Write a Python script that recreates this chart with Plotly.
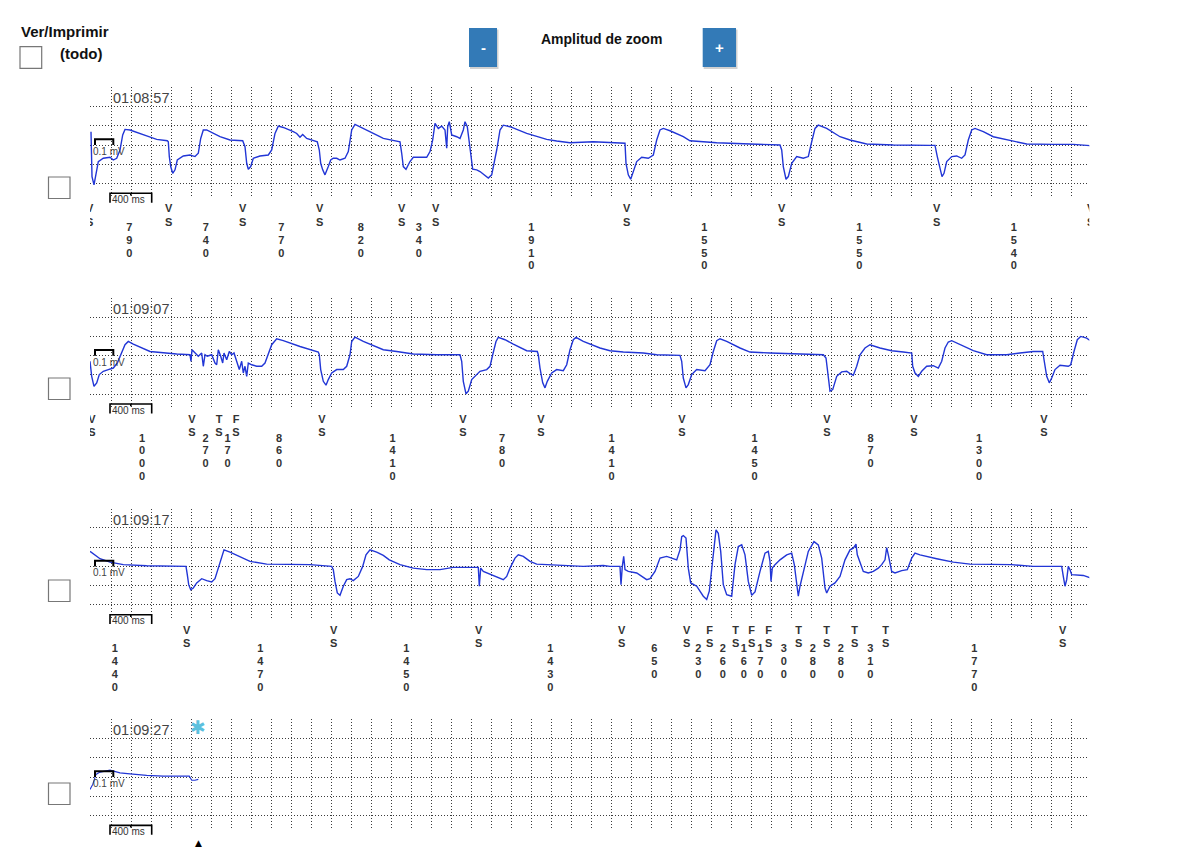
import plotly.graph_objects as go

# ---------------- data ----------------
strip_times = ["01:08:57", "01:09:07", "01:09:17", "01:09:27"]

# ECG samples per strip: (time in ms from strip start, amplitude in grid divisions)
strip1_samples = [
    (-7, 0.69), (3, -1.64), (23, -2.07), (43, -1.47), (66, -0.86), (116, -0.69), (183, -0.64), (216, -0.78),
    (250, -0.69), (283, -0.26), (310, 0.52), (333, 0.81), (383, 0.78), (550, 0.47), (650, 0.29), (756, 0.22),
    (766, 0.17), (776, -0.60), (790, -1.12), (810, -1.47), (833, -1.29), (856, -0.78), (916, -0.57), (983, -0.52),
    (1033, -0.60), (1066, -0.43), (1090, 0.34), (1116, 0.78), (1150, 0.78), (1283, 0.43), (1383, 0.26), (1510, 0.22),
    (1533, -0.09), (1550, -0.95), (1566, -1.26), (1590, -1.12), (1616, -0.69), (1683, -0.57), (1766, -0.52), (1800, -0.26),
    (1833, 0.60), (1866, 0.98), (1916, 0.91), (2016, 0.69), (2050, 0.60), (2083, 0.40), (2110, 0.55), (2150, 0.34),
    (2216, 0.22), (2256, 0.17), (2276, -0.26), (2290, -0.95), (2310, -1.29), (2333, -1.55), (2366, -1.12), (2390, -0.78),
    (2416, -0.69), (2450, -0.69), (2483, -0.78), (2533, -0.69), (2566, -0.34), (2600, 0.78), (2633, 1.07), (2683, 0.95),
    (2816, 0.60), (2916, 0.34), (3050, 0.22), (3083, 0.17), (3100, -0.43), (3116, -1.12), (3143, -1.26), (3183, -0.86),
    (3216, -0.64), (3350, -0.64), (3383, -0.34), (3410, 0.26), (3433, 1.12), (3466, 0.86), (3500, 0.98), (3533, 0.78),
    (3550, -0.17), (3560, 0.95), (3576, 1.21), (3600, 0.52), (3650, 0.43), (3683, 0.34), (3716, 0.78), (3733, 1.21),
    (3756, 0.95), (3783, -0.09), (3810, -1.26), (3850, -1.29), (3883, -1.38), (3966, -1.72), (4000, -1.55), (4050, -0.26),
    (4083, 0.78), (4116, 1.03), (4183, 0.95), (4350, 0.60), (4550, 0.29), (4650, 0.21), (4783, 0.12), (5016, 0.17),
    (5250, 0.12), (5333, 0.09), (5343, -0.95), (5366, -1.55), (5390, -1.78), (5410, -1.47), (5450, -0.86), (5500, -0.64),
    (5566, -0.69), (5616, -0.52), (5650, 0.26), (5683, 0.78), (5716, 0.86), (5783, 0.74), (5916, 0.43), (5983, 0.22),
    (6250, 0.12), (6583, 0.05), (6883, 0.0), (6900, -0.26), (6916, -1.12), (6943, -1.78), (6966, -1.64), (7000, -0.95),
    (7050, -0.60), (7116, -0.69), (7166, -0.60), (7200, 0.17), (7233, 0.86), (7266, 1.03), (7350, 0.86), (7483, 0.43),
    (7583, 0.26), (7750, 0.05), (8016, 0.0), (8383, -0.02), (8433, -0.02), (8456, -0.60), (8483, -1.29), (8503, -1.64),
    (8523, -1.47), (8550, -0.86), (8600, -0.60), (8650, -0.57), (8700, -0.69), (8733, -0.52), (8766, 0.26), (8800, 0.78),
    (8833, 0.86), (8916, 0.69), (9016, 0.43), (9216, 0.21), (9350, 0.05), (9616, 0.03), (9816, 0.03), (9983, -0.03),
    (9990, -0.09),
]

strip2_samples = [
    (-17, -0.29), (0, -1.07), (23, -1.59), (50, -1.41), (76, -0.98), (116, -0.81), (166, -0.72), (216, -0.64),
    (256, -0.38), (300, 0.14), (333, 0.57), (366, 0.74), (416, 0.60), (583, 0.22), (716, 0.14), (850, 0.09),
    (983, 0.05), (993, -0.29), (1003, 0.31), (1033, 0.14), (1066, -0.03), (1100, 0.14), (1116, -0.55), (1133, 0.05),
    (1156, -0.03), (1200, 0.05), (1233, -0.38), (1250, -0.47), (1266, 0.31), (1290, -0.03), (1310, -0.38), (1323, 0.14),
    (1350, -0.21), (1376, 0.22), (1400, 0.05), (1423, 0.14), (1443, -0.21), (1456, -0.38), (1476, -0.72), (1500, -0.29),
    (1516, -0.90), (1533, -0.55), (1550, -1.07), (1566, -0.38), (1600, -0.47), (1650, -0.55), (1700, -0.55), (1733, -0.38),
    (1766, 0.05), (1800, 0.57), (1850, 0.88), (1916, 0.78), (2083, 0.48), (2266, 0.19), (2276, 0.05), (2290, -0.72),
    (2316, -1.33), (2343, -1.53), (2366, -1.24), (2400, -0.90), (2450, -0.72), (2516, -0.72), (2550, -0.55), (2583, 0.05),
    (2600, 0.74), (2633, 0.97), (2716, 0.74), (2916, 0.31), (3050, 0.22), (3216, 0.09), (3450, 0.05), (3683, 0.05),
    (3700, -0.29), (3716, -1.33), (3743, -1.98), (3766, -1.84), (3800, -1.24), (3850, -0.98), (3883, -0.81), (3950, -0.72),
    (3983, -0.55), (4010, 0.05), (4043, 0.74), (4066, 0.95), (4133, 0.83), (4216, 0.60), (4350, 0.26), (4456, 0.22),
    (4466, 0.05), (4483, -0.64), (4510, -1.41), (4533, -1.67), (4556, -1.33), (4600, -0.90), (4650, -0.72), (4716, -0.78),
    (4750, -0.47), (4783, 0.31), (4816, 0.83), (4843, 0.95), (4916, 0.74), (5083, 0.40), (5183, 0.26), (5316, 0.19),
    (5516, 0.14), (5650, 0.05), (5883, 0.02), (5900, -0.29), (5916, -1.16), (5943, -1.67), (5966, -1.50), (6000, -0.98),
    (6050, -0.72), (6133, -0.78), (6183, -0.47), (6216, 0.22), (6250, 0.78), (6283, 0.88), (6350, 0.74), (6483, 0.40),
    (6583, 0.19), (6783, 0.14), (7016, 0.09), (7316, 0.05), (7343, -0.12), (7360, -0.98), (7383, -1.84), (7410, -1.76),
    (7450, -1.07), (7500, -0.84), (7550, -0.81), (7583, -0.93), (7616, -1.02), (7650, -0.55), (7683, 0.05), (7733, 0.40),
    (7783, 0.57), (7883, 0.40), (8000, 0.26), (8116, 0.19), (8200, 0.14), (8210, -0.55), (8233, -0.90), (8266, -1.07),
    (8300, -0.81), (8350, -0.55), (8416, -0.52), (8466, -0.64), (8500, -0.29), (8533, 0.40), (8566, 0.71), (8600, 0.78),
    (8683, 0.57), (8816, 0.26), (8950, 0.05), (9150, 0.05), (9283, 0.14), (9416, 0.22), (9510, 0.22), (9523, -0.29),
    (9550, -1.07), (9576, -1.41), (9600, -1.16), (9633, -0.72), (9683, -0.50), (9766, -0.55), (9790, -0.47), (9823, 0.22),
    (9856, 0.83), (9890, 1.00), (9950, 0.91), (9983, 0.79),
]

strip3_samples = [
    (-17, 0.78), (83, 0.40), (183, 0.22), (316, 0.09), (550, 0.03), (783, 0.0), (943, 0.0), (956, -0.43),
    (970, -0.95), (990, -1.21), (1016, -1.12), (1050, -0.86), (1100, -0.64), (1150, -0.74), (1200, -0.81), (1233, -0.64),
    (1266, -0.09), (1300, 0.60), (1323, 0.86), (1383, 0.74), (1483, 0.52), (1583, 0.26), (1750, 0.12), (1950, 0.12),
    (2183, 0.09), (2400, 0.0), (2416, -0.17), (2433, -0.78), (2456, -1.38), (2483, -1.50), (2516, -1.03), (2550, -0.69),
    (2583, -0.64), (2616, -0.74), (2666, -0.52), (2710, 0.0), (2743, 0.60), (2783, 0.86), (2850, 0.74), (2916, 0.57),
    (2976, 0.34), (3083, 0.09), (3216, -0.09), (3350, -0.17), (3483, -0.17), (3616, -0.05), (3866, -0.05), (3876, -1.03),
    (3890, -0.09), (3916, -0.26), (3950, -0.34), (4016, -0.47), (4083, -0.64), (4116, -0.69), (4150, -0.52), (4183, -0.09),
    (4233, 0.43), (4266, 0.60), (4316, 0.52), (4383, 0.26), (4450, 0.12), (4583, 0.09), (4750, 0.05), (4916, 0.0),
    (5116, 0.05), (5183, 0.0), (5283, 0.0), (5293, -0.95), (5306, 0.0), (5320, 0.52), (5333, -0.17), (5366, -0.26),
    (5450, -0.34), (5550, -0.69), (5583, -0.64), (5633, -0.26), (5683, 0.43), (5750, 0.52), (5850, 0.34), (5883, 0.86),
    (5900, 1.55), (5916, 1.60), (5943, 1.47), (5966, -0.09), (5990, -0.86), (6050, -1.03), (6116, -1.55), (6150, -1.72),
    (6176, -1.29), (6216, 0.60), (6243, 1.90), (6266, 1.72), (6290, 0.78), (6316, -0.95), (6350, -1.47), (6400, -1.55),
    (6433, 0.09), (6466, 1.03), (6500, 1.12), (6533, 0.60), (6566, -0.78), (6600, -1.50), (6633, -1.33), (6683, -0.26),
    (6733, 0.69), (6766, 0.78), (6783, 0.26), (6793, -0.78), (6806, -0.09), (6833, 0.09), (6883, 0.34), (6950, 0.60),
    (7000, 0.69), (7026, 0.09), (7066, -1.55), (7083, -1.03), (7116, -0.26), (7166, 0.78), (7223, 1.29), (7266, 1.12),
    (7300, 0.43), (7333, -1.12), (7350, -1.38), (7383, -1.03), (7433, -0.86), (7483, -0.52), (7533, 0.34), (7583, 0.86),
    (7616, 0.95), (7643, 1.16), (7656, 0.60), (7683, 0.17), (7716, -0.26), (7766, -0.34), (7816, -0.26), (7866, -0.09),
    (7900, 0.09), (7933, 0.34), (7950, 0.98), (7966, 0.60), (8000, -0.26), (8033, -0.34), (8100, -0.22), (8156, -0.17),
    (8200, 0.43), (8233, 0.69), (8283, 0.60), (8450, 0.40), (8616, 0.22), (8783, 0.12), (9016, 0.12), (9200, 0.09),
    (9416, 0.0), (9700, 0.0), (9716, -0.52), (9733, -1.03), (9750, -0.69), (9766, 0.0), (9783, -0.17), (9800, -0.43),
    (9916, -0.47), (9990, -0.60),
]

strip4_samples = [
    (-17, -0.64), (10, -0.38), (43, 0.14), (83, 0.26), (183, 0.36), (216, 0.31), (283, 0.22), (383, 0.17),
    (550, 0.09), (716, 0.05), (883, 0.05), (976, 0.05), (1000, -0.16), (1033, -0.16), (1066, -0.12),
]

# event markers (time of first event in ms, event codes, RR intervals in ms)
strip1_first = -20
strip1_events = ["VS", "VS", "VS", "VS", "VS", "VS", "VS", "VS", "VS", "VS"]
strip1_rr = [790, 740, 770, 820, 340, 1910, 1550, 1550, 1540]

strip2_first = 3
strip2_events = ["VS", "VS", "TS", "FS", "VS", "VS", "VS", "VS", "VS", "VS", "VS"]
strip2_rr = [1000, 270, 170, 860, 1410, 780, 1410, 1450, 870, 1300]

strip3_first = -490
strip3_events = ["VS", "VS", "VS", "VS", "VS", "VS", "FS", "TS", "FS", "FS", "TS", "TS", "TS", "TS", "VS"]
strip3_rr = [1440, 1470, 1450, 1430, 650, 230, 260, 160, 170, 300, 280, 280, 310, 1770]

grid_times = list(range(200, 10000, 200))
grid_levels = [-2, -1, 0, 1, 2]

# ---------------- layout constants ----------------
W, H = 1200, 853
BLUE = "#2236d6"
GRID_COLOR = "#3c3c3c"
FONT = "Liberation Sans, Arial, sans-serif"
STRIP_DY = 210.7
X_LEFT, X_RIGHT = 90.0, 1089.3
T_RANGE = [-17, 9976]
GRID_TOP, GRID_BOT, MID, CELL = 87.3, 198.3, 145.0, 19.25
LAB_TOP, LAB_BOT = 200.0, 290.0
CODE_Y, CODE_STEP = 4.0, 13.3
NUM_Y, NUM_STEP = 22.7, 12.8


def px(x):
    return x / W


def py(y):
    return 1 - y / H


def ax_name(kind, n):
    return kind + ("" if n == 1 else str(n))


fig = go.Figure()
layout = dict(
    width=W, height=H, margin=dict(l=0, r=0, t=0, b=0),
    paper_bgcolor="white", plot_bgcolor="rgba(0,0,0,0)", showlegend=False,
)
shapes = []
annotations = []

strips = [
    dict(samples=strip1_samples, first=strip1_first, events=strip1_events, rr=strip1_rr),
    dict(samples=strip2_samples, first=strip2_first, events=strip2_events, rr=strip2_rr),
    dict(samples=strip3_samples, first=strip3_first, events=strip3_events, rr=strip3_rr),
    dict(samples=strip4_samples, first=None, events=None, rr=None),
]

v_top = (MID - GRID_TOP) / CELL
v_bot = -(GRID_BOT - MID) / CELL
label_axis = 5

for i, s in enumerate(strips):
    dy = i * STRIP_DY
    n = i + 1
    xa, ya = ax_name("xaxis", n), ax_name("yaxis", n)
    layout[xa] = dict(
        domain=[px(X_LEFT), px(X_RIGHT)], range=T_RANGE, tickmode="array", tickvals=grid_times,
        showticklabels=False, ticks="", showgrid=True, gridcolor=GRID_COLOR, gridwidth=1,
        griddash="1px,2px", zeroline=False, showline=False, anchor=ax_name("y", n), fixedrange=True,
    )
    layout[ya] = dict(
        domain=[py(GRID_BOT + dy), py(GRID_TOP + dy)], range=[v_bot, v_top], tickmode="array",
        tickvals=grid_levels, showticklabels=False, ticks="", showgrid=True, gridcolor=GRID_COLOR,
        gridwidth=1, griddash="1px,2px", zeroline=False, showline=False, anchor=ax_name("x", n),
        fixedrange=True,
    )
    t = [p[0] for p in s["samples"]]
    v = [p[1] for p in s["samples"]]
    fig.add_trace(go.Scatter(
        x=t, y=v, mode="lines", line=dict(color=BLUE, width=1.4 if i < 3 else 1.1),
        xaxis=ax_name("x", n), yaxis=ax_name("y", n), hoverinfo="skip", cliponaxis=True,
    ))

    # calibration pulse 0.1 mV
    shapes.append(dict(
        type="path", xref=ax_name("x", n), yref=ax_name("y", n),
        path="M 33,0 L 33,0.3 L 216,0.3 L 216,0",
        line=dict(color="black", width=2),
    ))
    annotations.append(dict(
        x=px(108.5), y=py(151.5 + dy), xref="paper", yref="paper", text="0.1 mV", showarrow=False,
        font=dict(family=FONT, size=10, color="#444"), xanchor="center", yanchor="middle",
    ))
    # 400 ms scale bar
    shapes.append(dict(
        type="path", xref="paper", yref="paper",
        path=(f"M {px(110)},{py(202.7 + dy)} L {px(110)},{py(193.3 + dy)} "
              f"L {px(151.7)},{py(193.3 + dy)} L {px(151.7)},{py(202.7 + dy)} "
              f"M {px(130.8)},{py(193.3 + dy)} L {px(130.8)},{py(195.5 + dy)}"),
        line=dict(color="black", width=1.6),
    ))
    annotations.append(dict(
        x=px(128.5), y=py(199.5 + dy), xref="paper", yref="paper", text="400 ms", showarrow=False,
        font=dict(family=FONT, size=10, color="#333"), xanchor="center", yanchor="middle",
    ))
    # timestamp
    annotations.append(dict(
        x=px(141), y=py(98.3 + dy), xref="paper", yref="paper", text=strip_times[i], showarrow=False,
        font=dict(family=FONT, size=14.5, color="#444"), xanchor="center", yanchor="middle",
    ))

    # event labels + intervals (each character on its own row)
    if s["events"] is not None:
        m = label_axis
        label_axis += 1
        layout[ax_name("xaxis", m)] = dict(
            domain=[px(X_LEFT), px(X_RIGHT)], range=T_RANGE, visible=False, anchor=ax_name("y", m),
            fixedrange=True,
        )
        layout[ax_name("yaxis", m)] = dict(
            domain=[py(LAB_BOT + dy), py(LAB_TOP + dy)], range=[LAB_BOT - LAB_TOP, 0], visible=False,
            anchor=ax_name("x", m), fixedrange=True,
        )
        times = [s["first"]]
        for r in s["rr"]:
            times.append(times[-1] + r)
        mids = [(times[k] + times[k + 1]) / 2 for k in range(len(s["rr"]))]
        cx, cy, ct = [], [], []
        for tt, code in zip(times, s["events"]):
            for k, ch in enumerate(code):
                cx.append(tt)
                cy.append(CODE_Y + k * CODE_STEP)
                ct.append(ch)
        for tt, r in zip(mids, s["rr"]):
            for k, ch in enumerate(str(r)):
                cx.append(tt)
                cy.append(NUM_Y + k * NUM_STEP)
                ct.append(ch)
        fig.add_trace(go.Scatter(
            x=cx, y=cy, mode="text", text=ct, textposition="bottom center",
            textfont=dict(family=FONT, size=11, color="#333", weight="bold"),
            cliponaxis=True, hoverinfo="skip", xaxis=ax_name("x", m), yaxis=ax_name("y", m),
        ))

# strip checkboxes
for ytop in [177, 378, 580, 783]:
    shapes.append(dict(type="rect", xref="paper", yref="paper", x0=px(48.5), x1=px(70), y0=py(ytop + 21.5),
                       y1=py(ytop), line=dict(color="#777", width=1.2), fillcolor="white"))
# header checkbox
shapes.append(dict(type="rect", xref="paper", yref="paper", x0=px(20), x1=px(41.7), y0=py(68.3), y1=py(46.7),
                   line=dict(color="#777", width=1.2), fillcolor="white"))

# zoom buttons
for x0, x1, label in [(469, 497, "-"), (702.7, 736, "+")]:
    shapes.append(dict(type="rect", xref="paper", yref="paper", x0=px(x0 + 1), x1=px(x1 + 1.5),
                       y0=py(69), y1=py(29.5), line=dict(width=0), fillcolor="rgba(0,0,0,0.18)"))
    shapes.append(dict(type="rect", xref="paper", yref="paper", x0=px(x0), x1=px(x1), y0=py(67), y1=py(28),
                       line=dict(width=0), fillcolor="#337ab7"))
    annotations.append(dict(x=px((x0 + x1) / 2), y=py(47.5), xref="paper", yref="paper",
                            text=f"<b>{label}</b>", showarrow=False,
                            font=dict(family=FONT, size=15, color="white"),
                            xanchor="center", yanchor="middle"))

annotations += [
    dict(x=px(64.5), y=py(32), xref="paper", yref="paper", text="<b>Ver/Imprimir</b>", showarrow=False,
         font=dict(family=FONT, size=15, color="#111"), xanchor="center", yanchor="middle"),
    dict(x=px(80.5), y=py(53), xref="paper", yref="paper", text="<b>(todo)</b>", showarrow=False,
         font=dict(family=FONT, size=15, color="#111"), xanchor="center", yanchor="middle"),
    dict(x=px(601), y=py(39), xref="paper", yref="paper", text="<b>Amplitud de zoom</b>", showarrow=False,
         font=dict(family=FONT, size=14, color="#111"), xanchor="center", yanchor="middle"),
    dict(x=px(198), y=py(727), xref="paper", yref="paper", text="✱", showarrow=False,
         font=dict(family="DejaVu Sans", size=19, color="#5bc0de"), xanchor="center", yanchor="middle"),
    dict(x=px(198), y=py(843), xref="paper", yref="paper", text="▲", showarrow=False,
         font=dict(family="DejaVu Sans", size=9, color="black"), xanchor="center", yanchor="middle"),
]

layout["shapes"] = shapes
layout["annotations"] = annotations
fig.update_layout(**layout)
fig.write_html("out.html")
